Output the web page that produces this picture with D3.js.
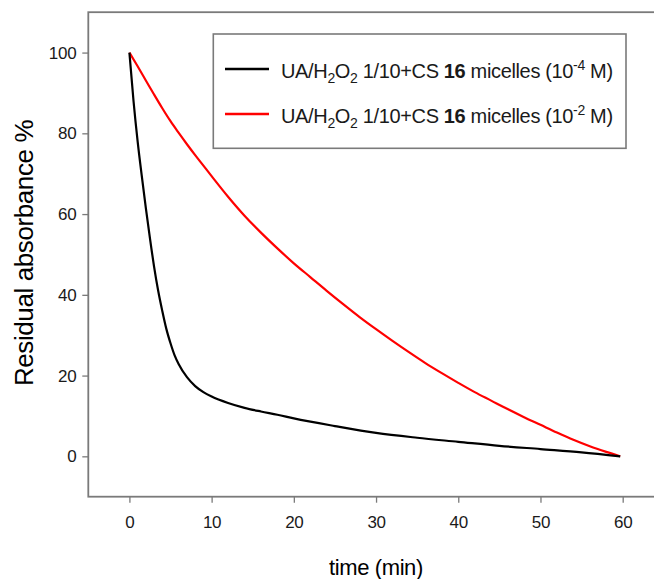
<!DOCTYPE html>
<html>
<head>
<meta charset="utf-8">
<script src="https://cdn.jsdelivr.net/npm/d3@7"></script>
<style>
  html, body { margin: 0; padding: 0; background: #fff; }
  svg { display: block; font-family: "Liberation Sans", Arial, sans-serif; }
</style>
</head>
<body>
<svg id="chart" width="654" height="579"></svg>
<script>
// ---- data ----
const timeBlack = [0, 0.5, 1, 1.5, 2, 2.5, 3, 3.5, 4, 4.5, 5, 5.5, 6, 7, 8, 9, 10, 12, 14, 16, 18, 20, 25, 30, 35, 40, 45, 50, 55, 59.7];
const absBlack  = [100, 88, 78, 69.5, 61.5, 54, 47, 41, 36, 31.5, 28, 25, 22.8, 19.6, 17.4, 15.9, 14.8, 13.2, 12.0, 11.1, 10.3, 9.4, 7.5, 5.8, 4.6, 3.6, 2.6, 1.8, 1.0, 0];

const timeRed = [0, 1, 2, 3, 4, 5, 6, 7, 8, 9, 10, 12, 14, 16, 18, 20, 22, 24, 26, 28, 30, 32, 34, 36, 38, 40, 42, 44, 46, 48, 50, 52, 54, 56, 58, 59.7];
const absRed  = [100, 96.6, 93.1, 89.6, 86.2, 83, 80.1, 77.3, 74.6, 72, 69.4, 64.3, 59.6, 55.4, 51.5, 47.8, 44.4, 41.0, 37.7, 34.5, 31.5, 28.6, 25.8, 23.1, 20.6, 18.2, 15.9, 13.8, 11.7, 9.7, 7.8, 5.9, 4.1, 2.5, 1.1, 0];

const xTicks = [0, 10, 20, 30, 40, 50, 60];
const yTicks = [0, 20, 40, 60, 80, 100];
const seriesNames = ["-4", "-2"];
const seriesColors = ["#000000", "#ff0000"];
const xTitle = "time (min)";
const yTitle = "Residual absorbance %";

(function () {
// ---- layout ----
const svg = d3.select("#chart");
const pL = 88.3, pT = 12.2, pB = 496.7, pR = 663.8;
const x = d3.scaleLinear().domain([-5, 65]).range([pL, pR]);
const y = d3.scaleLinear().domain([-10, 110]).range([pB, pT]);

const frameColor = "#7a7a7a";
const textColor = "#1a1a1a";

// frame
svg.append("rect")
  .attr("x", pL).attr("y", pT)
  .attr("width", pR - pL).attr("height", pB - pT)
  .attr("fill", "none").attr("stroke", frameColor).attr("stroke-width", 1.8);

// axes
const gx = svg.append("g").attr("transform", `translate(0,${pB})`)
  .call(d3.axisBottom(x).tickValues(xTicks).tickSize(6).tickPadding(13).tickFormat(d3.format("d")));
const gy = svg.append("g").attr("transform", `translate(${pL},0)`)
  .call(d3.axisLeft(y).tickValues(yTicks).tickSize(6).tickPadding(6).tickFormat(d3.format("d")));
[gx, gy].forEach(g => {
  g.select(".domain").remove();
  g.selectAll(".tick line").attr("stroke", frameColor).attr("stroke-width", 1.3);
  g.selectAll(".tick text").attr("fill", textColor)
    .style("font-size", "17px").style("font-family", "'Liberation Sans', Arial, sans-serif")
    .style("letter-spacing", "-0.3px");
});

// axis titles
svg.append("text")
  .attr("x", 376).attr("y", 575)
  .attr("text-anchor", "middle")
  .attr("fill", "#000")
  .style("font-size", "22px").style("letter-spacing", "-0.4px")
  .text(xTitle);
svg.append("text")
  .attr("transform", "translate(33,253) rotate(-90)")
  .attr("text-anchor", "middle")
  .attr("fill", "#000")
  .style("font-size", "26px").style("letter-spacing", "-0.4px")
  .text(yTitle);

// lines
const line = d3.line().x(d => x(d[0])).y(d => y(d[1])).curve(d3.curveMonotoneX);
const seriesData = [
  d3.zip(timeBlack, absBlack),
  d3.zip(timeRed, absRed)
];
[1, 0].forEach(i => {
  svg.append("path")
    .datum(seriesData[i])
    .attr("fill", "none")
    .attr("stroke", seriesColors[i])
    .attr("stroke-width", 2.2)
    .attr("stroke-linejoin", "round")
    .attr("d", line);
});

// legend
const lg = svg.append("g");
lg.append("rect")
  .attr("x", 213.3).attr("y", 34).attr("width", 412.7).attr("height", 114.3)
  .attr("fill", "#fff").attr("stroke", frameColor).attr("stroke-width", 1.6);
seriesNames.forEach((exp, i) => {
  const cy = 69 + i * 45;
  lg.append("line")
    .attr("x1", 225).attr("x2", 269).attr("y1", cy).attr("y2", cy)
    .attr("stroke", seriesColors[i]).attr("stroke-width", 2.4);
  const t = lg.append("text")
    .attr("x", 281).attr("y", cy + 8.5)
    .attr("fill", textColor)
    .style("font-size", "20px").style("letter-spacing", "-0.35px");
  t.append("tspan").text("UA/H");
  t.append("tspan").attr("dy", 5).style("font-size", "14px").text("2");
  t.append("tspan").attr("dy", -5).text("O");
  t.append("tspan").attr("dy", 5).style("font-size", "14px").text("2");
  t.append("tspan").attr("dy", -5).text(" 1/10+CS ");
  t.append("tspan").style("font-weight", "bold").text("16");
  t.append("tspan").text(" micelles (10");
  t.append("tspan").attr("dy", -8).style("font-size", "14px").text(exp);
  t.append("tspan").attr("dy", 8).text(" M)");
});
})();
</script>
</body>
</html>
